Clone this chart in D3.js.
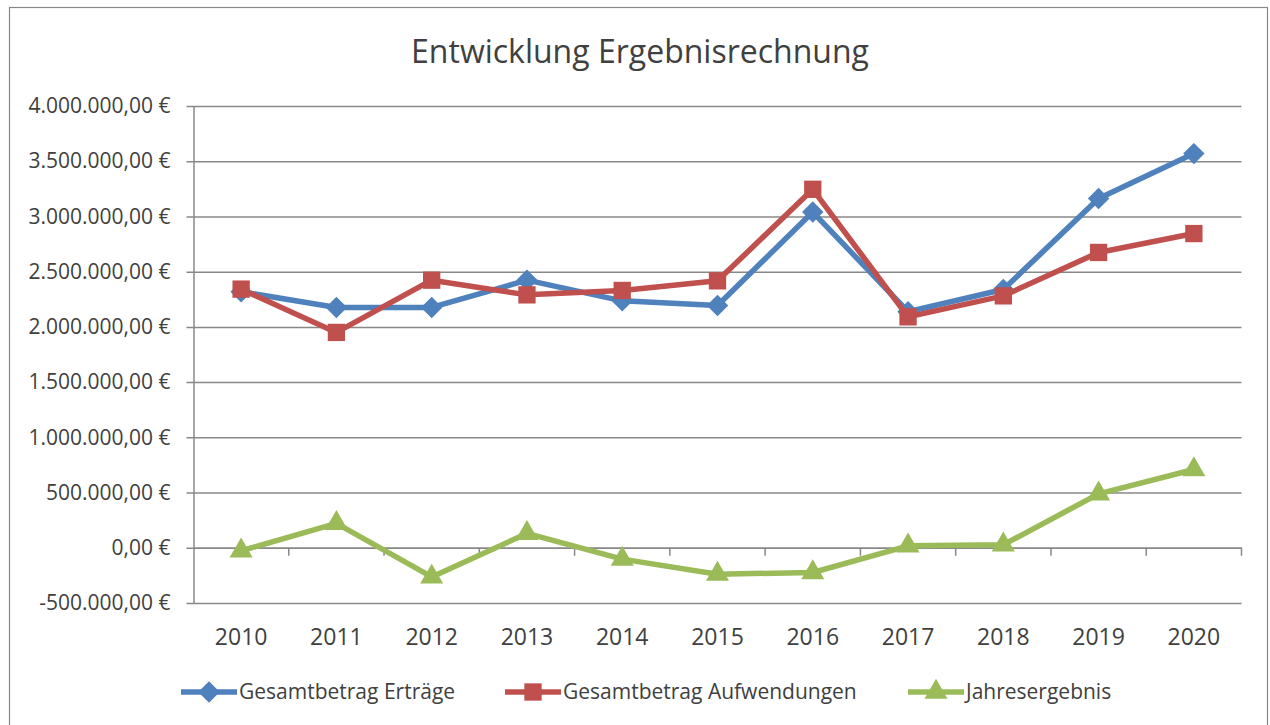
<!DOCTYPE html>
<html><head><meta charset="utf-8">
<script src="https://cdn.jsdelivr.net/npm/d3@7"></script>
<style>body{margin:0;background:#fff}svg{display:block}</style>
</head><body>
<svg id="chart" width="1270" height="725"></svg>
<script>
const years = ["2010","2011","2012","2013","2014","2015","2016","2017","2018","2019","2020"];
const ertraege = [2318000,2176000,2176000,2423000,2236000,2193000,3040000,2137000,2339000,3162000,3569000];
const aufwendungen = [2342000,1950000,2423000,2290000,2330000,2417000,3246000,2091000,2281000,2674000,2845000];
const jahresergebnis = [-27000,221000,-264000,130000,-103000,-239000,-224000,18000,27000,488000,709000];
const yTicks = [-500000,0,500000,1000000,1500000,2000000,2500000,3000000,3500000,4000000];
const seriesNames = ["Gesamtbetrag Erträge","Gesamtbetrag Aufwendungen","Jahresergebnis"];
const colors = ["#4F81BD","#C0504D","#9BBB59"];
const title = "Entwicklung Ergebnisrechnung";

(function(){
const font = "'Open Sans', sans-serif";
const textColor = "#404040";
const gridColor = "#888888";
const svg = d3.select("#chart");

svg.append("rect").attr("x",9.5).attr("y",7.5).attr("width",1258).attr("height",730)
  .attr("fill","#fff").attr("stroke","#888").attr("stroke-width",1.2);

const pLeft = 193.5, pRight = 1241.5, pTop = 106, pBottom = 603;
const x = d3.scaleBand().domain(years).range([pLeft,pRight]);
const y = d3.scaleLinear().domain([-500000,4000000]).range([pBottom,pTop]);

const fmt = v => {
  const s = d3.format(",.2f")(Math.abs(v)).replace(/,/g,"X").replace(".",",").replace(/X/g,".");
  return (v<0?"-":"") + s + " €";
};

const yAxis = d3.axisLeft(y).tickValues(yTicks).tickFormat(fmt).tickSize(-(pRight-pLeft)).tickSizeOuter(0).tickPadding(23);
const gy = svg.append("g").attr("transform",`translate(${pLeft},0)`).call(yAxis);
gy.select(".domain").attr("stroke",gridColor).attr("stroke-width",1.5);
gy.selectAll(".tick line").attr("stroke",gridColor).attr("stroke-width",1.5).attr("x1",-7);
gy.selectAll(".tick text").attr("font-family",font).attr("font-size",21).attr("fill",textColor);

const xAxis = d3.axisBottom(x).tickSize(0).tickSizeOuter(0);
const gx = svg.append("g").attr("transform",`translate(0,${y(0)})`).call(xAxis);
gx.select(".domain").attr("stroke",gridColor).attr("stroke-width",1.5);
gx.selectAll(".tick text").remove();
const bounds = years.map(d=>x(d)).concat([pRight]).slice(1);
gx.selectAll(".bt").data(bounds).enter().append("line")
  .attr("x1",d=>d).attr("x2",d=>d).attr("y1",0).attr("y2",8)
  .attr("stroke",gridColor).attr("stroke-width",1.5);
svg.append("g").selectAll("text").data(years).enter().append("text")
  .attr("x",d=>x(d)+x.bandwidth()/2).attr("y",645)
  .attr("text-anchor","middle").attr("font-family",font).attr("font-size",23).attr("fill",textColor)
  .text(d=>d);

svg.append("text").attr("x",640).attr("y",63).attr("text-anchor","middle")
  .attr("font-family",font).attr("font-size",32).attr("fill",textColor).text(title);

const data = [ertraege,aufwendungen,jahresergebnis];
const line = d3.line().x((d,i)=>x(years[i])+x.bandwidth()/2).y(d=>y(d));
const squareDiamond = { draw(ctx, size){ const r = Math.sqrt(size/2); ctx.moveTo(0,-r); ctx.lineTo(r,0); ctx.lineTo(0,r); ctx.lineTo(-r,0); ctx.closePath(); } };
const symbols = [squareDiamond, d3.symbolSquare, d3.symbolTriangle];
const symSizes = [230, 300, 230];

data.forEach((vals,si)=>{
  const g = svg.append("g");
  g.append("path").datum(vals).attr("d",line).attr("fill","none")
    .attr("stroke",colors[si]).attr("stroke-width",5.5).attr("stroke-linejoin","round");
  g.selectAll("path.m").data(vals).enter().append("path").attr("class","m")
    .attr("d",d3.symbol().type(symbols[si]).size(symSizes[si]))
    .attr("transform",(d,i)=>`translate(${x(years[i])+x.bandwidth()/2},${y(d)})`)
    .attr("fill",colors[si]);
});

const legX = [181, 505, 908];
const ly = 692;
seriesNames.forEach((n,i)=>{
  const g = svg.append("g");
  g.append("line").attr("x1",legX[i]).attr("x2",legX[i]+56).attr("y1",ly).attr("y2",ly)
    .attr("stroke",colors[i]).attr("stroke-width",5.5);
  g.append("path").attr("d",d3.symbol().type(symbols[i]).size(symSizes[i]))
    .attr("transform",`translate(${legX[i]+28},${ly})`).attr("fill",colors[i]);
  g.append("text").attr("x",legX[i]+58).attr("y",ly).attr("dy","0.35em")
    .attr("font-family",font).attr("font-size",21).attr("fill",textColor).text(n);
});
})();
</script>
</body></html>
